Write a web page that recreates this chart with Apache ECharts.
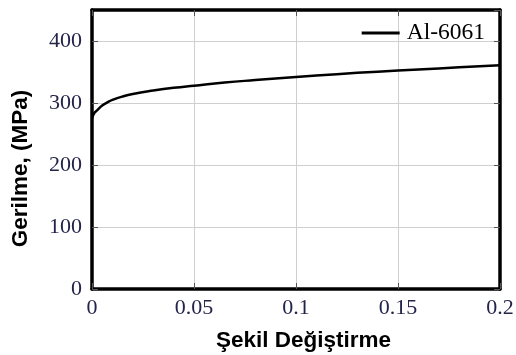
<!DOCTYPE html>
<html>
<head>
<meta charset="utf-8">
<script src="https://cdn.jsdelivr.net/npm/echarts@6/dist/echarts.min.js"></script>
<style>html,body{margin:0;padding:0;background:#fff}#c{width:516px;height:355px}</style>
</head>
<body>
<div id="c"></div>
<script>
const strain = [0, 0.001, 0.0025, 0.005, 0.0075, 0.01, 0.015, 0.02, 0.03, 0.04, 0.05, 0.065, 0.08, 0.1, 0.12, 0.14, 0.16, 0.18, 0.2];
const stress = [275, 283, 288, 296, 301, 305, 310.5, 314.5, 320, 324.5, 328, 333, 337, 342, 346.5, 350.5, 354, 357.5, 361];
const seriesName = 'Al-6061';
const xTitle = 'Şekil Değiştirme';
const yTitle = 'Gerilme, (MPa)';

const labelFont = {fontFamily: 'Liberation Serif', fontSize: 22, color: '#24244a'};
const titleFont = {fontFamily: 'Liberation Sans', fontWeight: 'bold', fontSize: 22.5, color: '#000'};
const frame = {show: true, onZero: false, lineStyle: {color: '#000', width: 3.5}};
const tick = {inside: true, length: 6, lineStyle: {color: '#555'}};
const chart = echarts.init(document.getElementById('c'));
chart.setOption({
  animation: false,
  grid: {left: 92, right: 16, top: 10, bottom: 66, outerBoundsMode: 'none', containLabel: false},
  legend: {
    top: 21, right: 31, padding: 0, itemWidth: 38, itemHeight: 3, itemGap: 6,
    textStyle: {fontFamily: 'Liberation Serif', fontSize: 23.5, color: '#000', padding: [0, 0, 0, 2]},
    data: [{name: seriesName, icon: 'rect'}]
  },
  xAxis: [{
    type: 'value', min: 0, max: 0.2, interval: 0.05,
    name: xTitle, nameLocation: 'middle', nameGap: 40,
    nameTextStyle: Object.assign({padding: [0, 0, 0, 15]}, titleFont),
    axisLine: frame, axisTick: tick,
    axisLabel: Object.assign({margin: 8}, labelFont),
    splitLine: {lineStyle: {color: '#cfcfcf', width: 1}}
  }, {
    type: 'value', min: 0, max: 0.2, interval: 0.05, position: 'top',
    axisLine: frame, axisLabel: {show: false}, splitLine: {show: false}, axisTick: tick
  }],
  yAxis: [{
    type: 'value', min: 0, max: 450, interval: 100,
    name: yTitle, nameLocation: 'middle', nameGap: 60,
    nameTextStyle: Object.assign({padding: [0, 38, 0, 0]}, titleFont),
    axisLine: frame, axisTick: tick,
    axisLabel: Object.assign({margin: 10, showMaxLabel: false}, labelFont),
    splitLine: {lineStyle: {color: '#cfcfcf', width: 1}}
  }, {
    type: 'value', min: 0, max: 450, interval: 100, position: 'right',
    axisLine: frame, axisLabel: {show: false}, splitLine: {show: false}, axisTick: tick
  }],
  series: [{
    name: seriesName, type: 'line', symbol: 'none', smooth: true,
    lineStyle: {color: '#000', width: 2.5},
    itemStyle: {color: '#000'},
    data: strain.map((s, i) => [s, stress[i]])
  }]
});
</script>
</body>
</html>
